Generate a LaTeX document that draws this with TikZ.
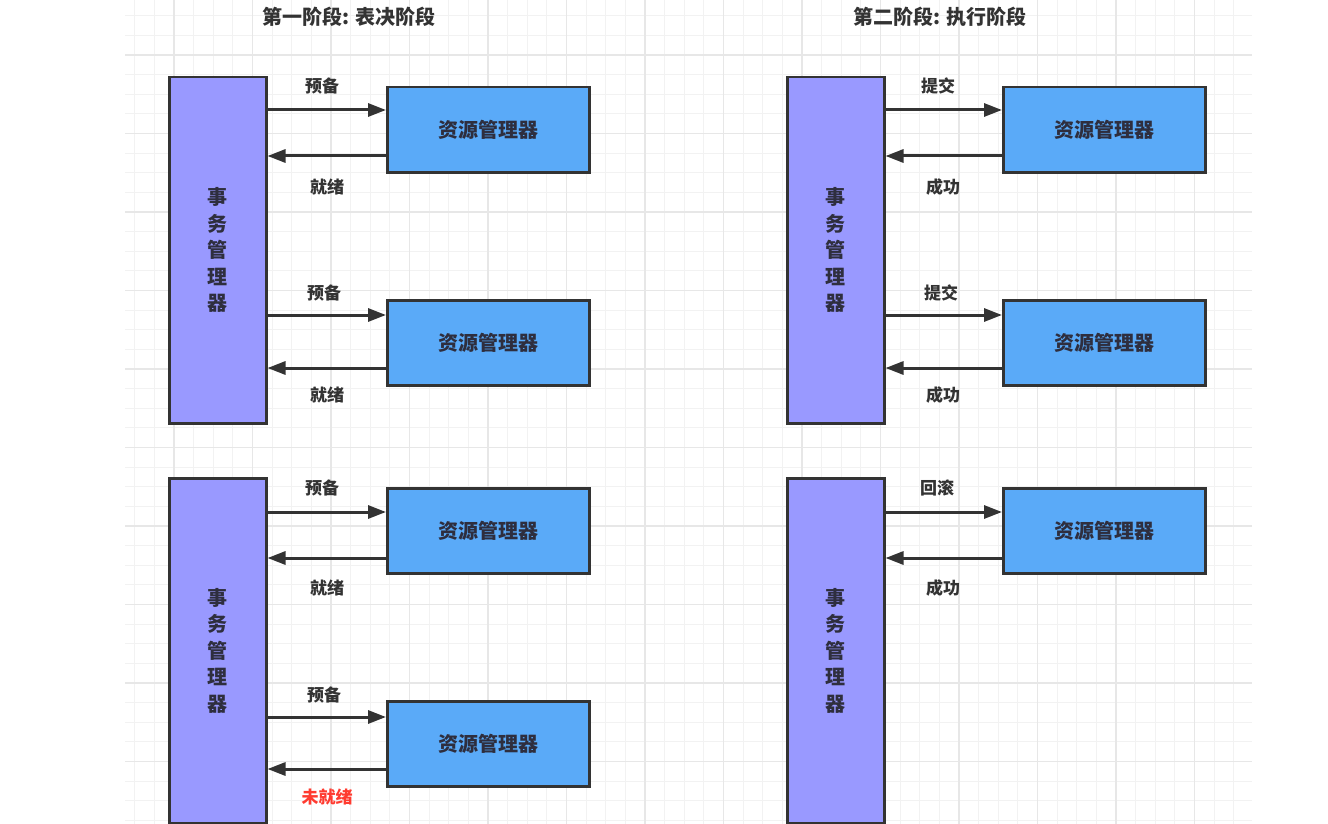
\documentclass[tikz,border=0pt]{standalone}
\usepackage{fontspec}
\setmainfont{Noto Sans CJK SC}
\usetikzlibrary{arrows.meta}
\definecolor{tmfill}{HTML}{9999FF}
\definecolor{rmfill}{HTML}{5AAAF8}
\definecolor{edgecol}{HTML}{333333}
\definecolor{txtcol}{HTML}{2E2E3E}
\definecolor{gridminor}{HTML}{F2F2F2}
\definecolor{gridmajor}{HTML}{E7E7E7}
\definecolor{alertcol}{HTML}{FF3B30}
\begin{document}
\begin{tikzpicture}[x=1pt,y=-1pt,
  tmbox/.style={draw=edgecol,line width=2.5pt,fill=tmfill,minimum width=97pt,
    inner sep=0pt,align=center,anchor=north west,text=txtcol,
    font=\fontsize{20}{26.5}\selectfont\bfseries},
  rmbox/.style={draw=edgecol,line width=2.5pt,fill=rmfill,minimum width=202pt,
    minimum height=85pt,inner sep=0pt,anchor=north west,text=txtcol,
    font=\fontsize{20}{24}\selectfont\bfseries},
  arr/.style={draw=edgecol,line width=3pt,-{Triangle[length=18pt,width=13pt]}},
  lbl/.style={inner sep=0pt,text=edgecol,font=\fontsize{17}{20}\selectfont\bfseries},
  ttl/.style={inner sep=0pt,text=edgecol,font=\fontsize{20}{24}\selectfont\bfseries}]
\useasboundingbox (0,0) rectangle (1328,824);
\fill[white] (0,0) rectangle (1328,824);
% grid
\foreach \i in {-2,...,54} {\draw[gridminor,line width=1pt] ({174+\i*19.625},0) -- ({174+\i*19.625},824);}
\foreach \j in {-3,...,39} {\draw[gridminor,line width=1pt] (125,{55+\j*19.625}) -- (1252,{55+\j*19.625});}
\foreach \i in {0,...,13} {\draw[gridmajor,line width=1.3pt] ({174+\i*78.5},0) -- ({174+\i*78.5},824);}
\foreach \j in {0,...,9} {\draw[gridmajor,line width=1.3pt] (125,{55+\j*78.5}) -- (1252,{55+\j*78.5});}
% titles
\node[ttl] (t1) at (349,17) {第一阶段: 表决阶段};
\node[ttl] (t2) at (940,17) {第二阶段: 执行阶段};
% ---------- top left ----------
\node[tmbox,minimum height=346pt] (tmA) at (168,76) {事\\务\\管\\理\\器};
\node[rmbox] (rmA1) at (386,86) {资源管理器};
\node[rmbox] (rmA2) at (386,299) {资源管理器};
\draw[arr] (tmA.east |- 0,110) -- (rmA1.west |- 0,110);
\draw[arr] (rmA1.west |- 0,156) -- (tmA.east |- 0,156);
\draw[arr] (tmA.east |- 0,315) -- (rmA2.west |- 0,315);
\draw[arr] (rmA2.west |- 0,368) -- (tmA.east |- 0,368);
\node[lbl] (lA1) at (322,86) {预备};
\node[lbl] (lA2) at (327,187) {就绪};
\node[lbl] (lA3) at (324,293) {预备};
\node[lbl] (lA4) at (327,395) {就绪};
% ---------- bottom left ----------
\node[tmbox,minimum height=345pt] (tmB) at (168,477) {事\\务\\管\\理\\器};
\node[rmbox] (rmB1) at (386,487) {资源管理器};
\node[rmbox] (rmB2) at (386,700) {资源管理器};
\draw[arr] (tmB.east |- 0,512) -- (rmB1.west |- 0,512);
\draw[arr] (rmB1.west |- 0,558) -- (tmB.east |- 0,558);
\draw[arr] (tmB.east |- 0,717) -- (rmB2.west |- 0,717);
\draw[arr] (rmB2.west |- 0,769) -- (tmB.east |- 0,769);
\node[lbl] (lB1) at (322,488) {预备};
\node[lbl] (lB2) at (327,588) {就绪};
\node[lbl] (lB3) at (324,695) {预备};
\node[lbl,text=alertcol] (lB4) at (327,797) {未就绪};
% ---------- top right ----------
\node[tmbox,minimum height=346pt] (tmC) at (786,76) {事\\务\\管\\理\\器};
\node[rmbox] (rmC1) at (1002,86) {资源管理器};
\node[rmbox] (rmC2) at (1002,299) {资源管理器};
\draw[arr] (tmC.east |- 0,110) -- (rmC1.west |- 0,110);
\draw[arr] (rmC1.west |- 0,156) -- (tmC.east |- 0,156);
\draw[arr] (tmC.east |- 0,315) -- (rmC2.west |- 0,315);
\draw[arr] (rmC2.west |- 0,368) -- (tmC.east |- 0,368);
\node[lbl] (lC1) at (938,86) {提交};
\node[lbl] (lC2) at (943,187) {成功};
\node[lbl] (lC3) at (941,293) {提交};
\node[lbl] (lC4) at (943,395) {成功};
% ---------- bottom right ----------
\node[tmbox,minimum height=345pt] (tmD) at (786,477) {事\\务\\管\\理\\器};
\node[rmbox] (rmD1) at (1002,487) {资源管理器};
\draw[arr] (tmD.east |- 0,512) -- (rmD1.west |- 0,512);
\draw[arr] (rmD1.west |- 0,558) -- (tmD.east |- 0,558);
\node[lbl] (lD1) at (937,488) {回滚};
\node[lbl] (lD2) at (943,588) {成功};
\end{tikzpicture}
\end{document}
